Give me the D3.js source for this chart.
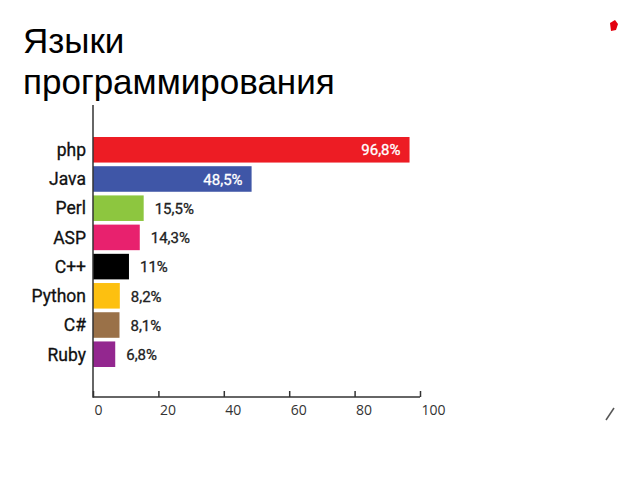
<!DOCTYPE html>
<html><head><meta charset="utf-8">
<script src="https://cdn.jsdelivr.net/npm/d3@7"></script>
<style>body{margin:0;background:#fff}svg{display:block}</style>
</head><body>
<svg id="c" width="640" height="480"></svg>
<script>
const categories = ["php","Java","Perl","ASP","C++","Python","C#","Ruby"];
const values = [96.8,48.5,15.5,14.3,11,8.2,8.1,6.8];
const valueLabels = ["96,8%","48,5%","15,5%","14,3%","11%","8,2%","8,1%","6,8%"];
const colors = ["#ED1C24","#3F56A7","#8DC63F","#E8216E","#000000","#FDC010","#9A7148","#93278F"];
const insideLabels = ["php","Java"];
const xTicks = [0,20,40,60,80,100];
const titleLines = ["Языки","программирования"];

const svg = d3.select("#c");
svg.append("g").selectAll("text").data(titleLines).join("text")
  .attr("x",23).attr("y",(d,i)=>52.5+i*41)
  .attr("font-family","Liberation Sans, Arial, sans-serif")
  .attr("font-size",35).attr("fill","#000").text(d=>d);

const x = d3.scaleLinear().domain([0,100]).range([93,420]);
const y = d3.scaleBand().domain(categories).range([137,367]).paddingInner(0.125).paddingOuter(0);

// bars
svg.append("g").selectAll("rect").data(values).join("rect")
  .attr("x",x(0)).attr("y",(d,i)=>y(categories[i]))
  .attr("width",d=>x(d)-x(0)).attr("height",y.bandwidth())
  .attr("fill",(d,i)=>colors[i]);

// category labels
svg.append("g").selectAll("text").data(categories).join("text")
  .attr("x",86).attr("y",d=>y(d)+y.bandwidth()/2)
  .attr("dy","0.36em").attr("text-anchor","end")
  .attr("font-family","Roboto, sans-serif").attr("font-weight",400)
  .attr("font-size",17.5).attr("fill","#111").attr("stroke","#111").attr("stroke-width",0.3)
  .text(d=>d);

// value labels
svg.append("g").selectAll("text").data(values).join("text")
  .each(function(d,i){
    const inside = insideLabels.includes(categories[i]);
    const c = inside ? "#fff" : "#222";
    d3.select(this)
      .attr("x", inside ? x(d)-9 : x(d)+11)
      .attr("text-anchor", inside ? "end" : "start")
      .attr("fill", c).attr("stroke", c).attr("stroke-width",0.3);
  })
  .attr("y",(d,i)=>y(categories[i])+y.bandwidth()/2)
  .attr("dy","0.38em")
  .attr("font-family","Roboto, sans-serif").attr("font-weight",400)
  .attr("font-size",15).text((d,i)=>valueLabels[i]);

// x axis
const ax = svg.append("g").attr("transform","translate(0,397)")
  .call(d3.axisBottom(x).tickValues(xTicks).tickSize(-6).tickPadding(0).tickFormat(d3.format("d")));
ax.select(".domain").attr("stroke","#333").attr("stroke-width",1.5).attr("d","M93,0H420");
ax.selectAll(".tick line").attr("stroke","#333").attr("stroke-width",1.5);
ax.selectAll(".tick text").attr("text-anchor","start").attr("x",1).attr("y",18)
  .attr("dy","0").attr("font-family","Open Sans, sans-serif").attr("font-size",14).attr("fill","#333");

// y axis line
svg.append("line").attr("x1",x(0)).attr("x2",x(0)).attr("y1",105).attr("y2",397.75)
  .attr("stroke","#333").attr("stroke-width",1.5);

// decorations
svg.append("path").attr("d","M610,23 L615,20 L618,24 L616,30 L611,31 Z").attr("fill","#E3000F");
svg.append("line").attr("x1",606).attr("y1",420).attr("x2",614).attr("y2",408)
  .attr("stroke","#555").attr("stroke-width",1.5);
</script>
</body></html>
